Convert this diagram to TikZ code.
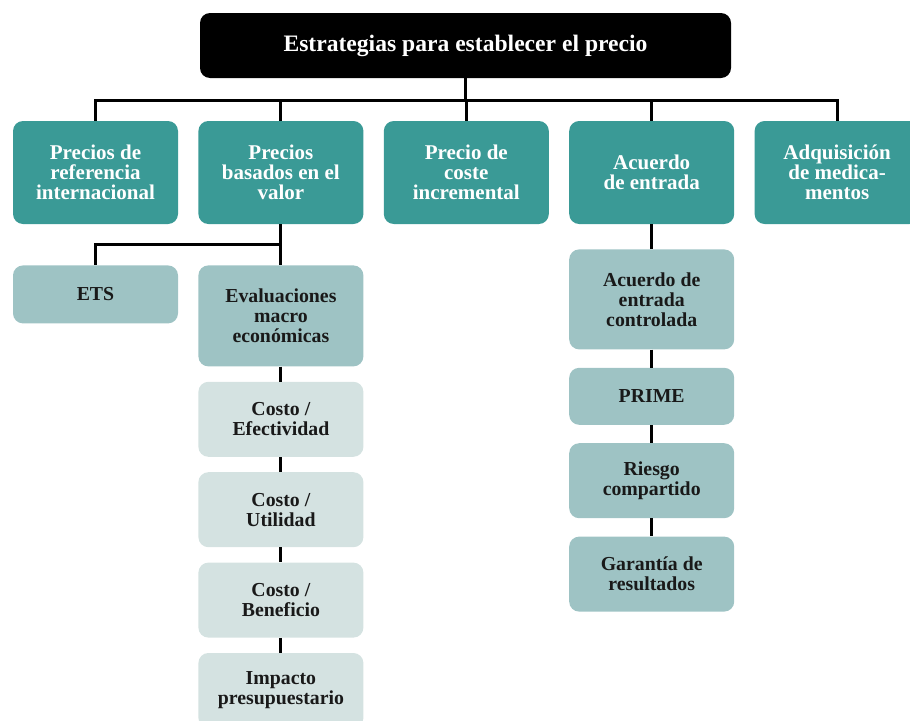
\documentclass[tikz,border=0pt]{standalone}
\usepackage{fontspec}
\setmainfont{Liberation Serif}
\usetikzlibrary{positioning}
\definecolor{tealdark}{HTML}{3A9A96}
\definecolor{tealmid}{HTML}{9EC3C4}
\definecolor{teallight}{HTML}{D4E2E1}
\begin{document}
\begin{tikzpicture}
[x=1pt,y=-1pt,
box/.style={rounded corners=10pt,align=center,inner sep=2pt,minimum width=165pt,
  font=\fontsize{19.8}{20}\selectfont\bfseries},
head/.style={box,fill=tealdark,text=white,minimum height=103pt,
  font=\fontsize{21}{20}\selectfont\bfseries},
mid/.style={box,fill=tealmid,text=black!90},
light/.style={box,fill=teallight,text=black!90},
link/.style={line width=3pt}]
\useasboundingbox (0,0) rectangle (910,720);
\node[box,fill=black,text=white,minimum width=531pt,minimum height=65pt,
  font=\fontsize{23.6}{24}\selectfont\bfseries] (top) at (465.5,45.5) {Estrategias para establecer el precio};
\node[head] (ref) at (95.5,172.5) {Precios de\\referencia\\internacional};
\node[head,right=20pt of ref] (val) {Precios\\basados en el\\valor};
\node[head,right=20pt of val] (coste) {Precio de\\coste\\incremental};
\node[head,right=20pt of coste] (acu) {Acuerdo\\de entrada};
\node[head,right=20pt of acu] (adq) {Adquisición\\de medica-\\mentos};
\node[mid,minimum height=58pt,below=41pt of ref] (ets) {ETS};
\node[mid,minimum height=101pt,below=41pt of val] (evm) {Evaluaciones\\macro\\económicas};
\node[light,minimum height=75pt,below=15pt of evm] (cef) {Costo /\\Efectividad};
\node[light,minimum height=75pt,below=15pt of cef] (cut) {Costo /\\Utilidad};
\node[light,minimum height=75pt,below=15pt of cut] (cbe) {Costo /\\Beneficio};
\node[light,minimum height=75pt,below=15pt of cbe] (imp) {Impacto\\presupuestario};
\node[mid,minimum height=100pt,below=25pt of acu] (aec) {Acuerdo de\\entrada\\controlada};
\node[mid,minimum height=57pt,below=18pt of aec] (prime) {PRIME};
\node[mid,minimum height=75pt,below=18pt of prime] (rie) {Riesgo\\compartido};
\node[mid,minimum height=75pt,below=18pt of rie] (gar) {Garantía de\\resultados};
\coordinate[below=22pt of top.south] (bus);
\coordinate[below=20pt of val.south] (fork);
\draw[link] (top) -- (bus);
\foreach \n in {ref,val,coste,acu,adq} \draw[link] (bus) -| (\n.north);
\draw[link] (fork) -| (ets.north);
\path[link] (val) edge (evm) (evm) edge (cef) (cef) edge (cut) (cut) edge (cbe)
(cbe) edge (imp) (acu) edge (aec) (aec) edge (prime) (prime) edge (rie) (rie) edge (gar);
\end{tikzpicture}
\end{document}
